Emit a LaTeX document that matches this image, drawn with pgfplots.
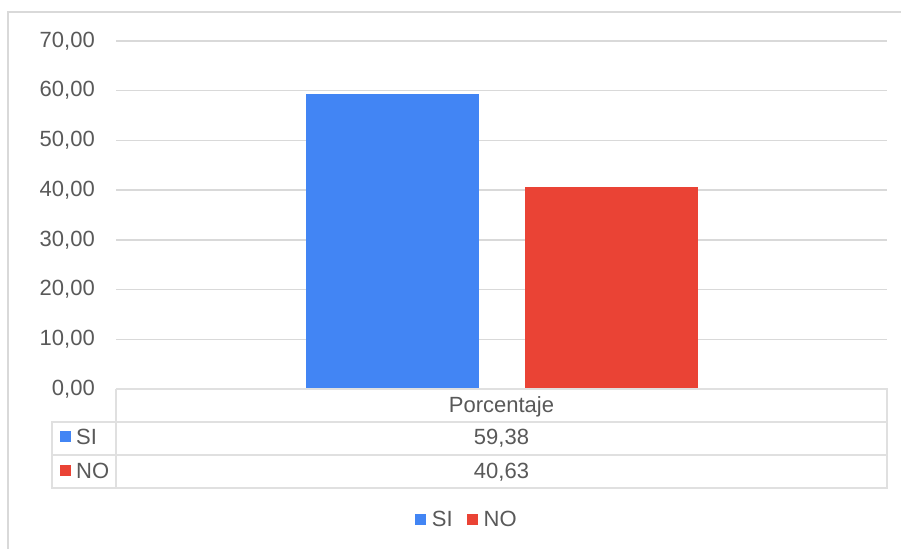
\documentclass[border=0pt]{standalone}
\usepackage{fontspec}
\setmainfont{Liberation Sans}
\usepackage{pgfplots}
\usepackage{pgfplotstable}
\pgfplotsset{compat=1.18}

\definecolor{azul}{HTML}{4285F4}
\definecolor{rojo}{HTML}{EA4335}
\definecolor{texto}{HTML}{595959}
\definecolor{rejilla}{HTML}{D9D9D9}
\definecolor{borde}{HTML}{E0E0E0}

% one small table per series
\pgfplotstableread{
x y
0 59.38
}\datosSI
\pgfplotstableread{
x y
0 40.63
}\datosNO

% prints the value of a series with two decimals and a decimal comma
\newcommand\valor[1]{\pgfplotstablegetelem{0}{y}\of#1\pgfmathprintnumber[fixed,fixed zerofill,precision=2,use comma,assume math mode=true]{\pgfplotsretval}}

\begin{document}
\begin{tikzpicture}[font=\fontsize{22bp}{26bp}\selectfont, text=texto]
\useasboundingbox (0,0) rectangle (901bp,549bp);
\fill[white] (0,0) rectangle (901bp,549bp);
% outer frame
\draw[rejilla, line width=2bp] (8bp,0) -- (8bp,537bp) -- (901bp,537bp);

\begin{axis}[
  at={(116bp,160bp)}, anchor=south west,
  scale only axis, width=771bp, height=348bp,
  xmin=-0.5, xmax=0.5, ymin=0, ymax=70,
  xtick=\empty, ytick={0,10,...,70},
  ymajorgrids, grid style={rejilla, line width=1.3bp},
  axis line style={draw=none},
  major tick length=0pt,
  yticklabel style={anchor=base east, inner sep=0pt, xshift=-21bp, yshift=-6.2bp, text=texto,
    /pgf/number format/.cd, fixed, fixed zerofill, precision=2, use comma, assume math mode=true},
  ybar=46bp, bar width=173bp,
  legend style={at={(0.455,-0.376)}, anchor=center, draw=none, fill=none,
    legend columns=2, text=texto, font=\fontsize{22bp}{26bp}\selectfont,
    /tikz/every even column/.append style={column sep=12bp}},
]
\addplot[fill=azul, draw=none,
  legend image code/.code={\fill[azul] (0bp,-5bp) rectangle (11bp,6bp); \path (15bp,0bp);}]
  table[x=x, y=y] {\datosSI};
\addlegendentry{SI}
\addplot[fill=rojo, draw=none,
  legend image code/.code={\fill[rojo] (0bp,-5bp) rectangle (11bp,6bp); \path (15bp,0bp);}]
  table[x=x, y=y] {\datosNO};
\addlegendentry{NO}
\end{axis}

% data table under the plot
\begin{scope}[borde, line width=1.6bp]
\draw (116bp,160bp) -- (887bp,160bp) -- (887bp,61bp) -- (52bp,61bp) -- (52bp,127bp) -- (887bp,127bp);
\draw (52bp,94bp) -- (887bp,94bp);
\draw (116bp,160bp) -- (116bp,61bp);
\end{scope}
\node[anchor=base, inner sep=0pt] at (501.5bp,136.5bp) {Porcentaje};
\node[anchor=base, inner sep=0pt] at (501.5bp,104bp) {\valor\datosSI};
\node[anchor=base, inner sep=0pt] at (501.5bp,70.7bp) {\valor\datosNO};
\fill[azul] (60bp,107bp) rectangle (71bp,118bp);
\fill[rojo] (60bp,73bp) rectangle (71bp,84bp);
\node[anchor=base west, inner sep=0pt] at (76bp,104bp) {SI};
\node[anchor=base west, inner sep=0pt] at (76bp,70.7bp) {NO};
\end{tikzpicture}
\end{document}
